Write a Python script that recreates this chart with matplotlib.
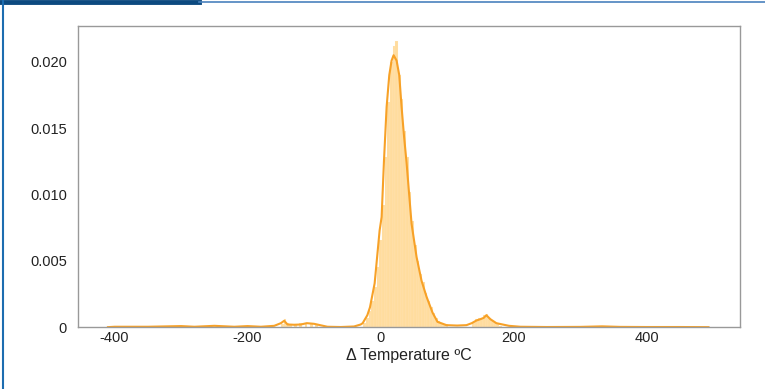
import matplotlib
matplotlib.use("Agg")
import matplotlib.pyplot as plt
from matplotlib.lines import Line2D
from matplotlib.ticker import FixedLocator, FixedFormatter

# Histogram bins (left edges, width 4) and density heights
bin_width = 4
bin_left = [-150, -146, -142, -138, -130, -122, -114, -106, -98,
            -26, -22, -18, -14, -10, -6, -2, 2, 6, 10, 14, 18, 22, 26, 30, 34,
            38, 42, 46, 50, 54, 58, 62, 66, 70, 74, 78, 82, 86, 90, 94, 98,
            138, 142, 146, 150, 154, 158, 162, 166, 170, 174, 178]
bin_height = [0.0002, 0.0006, 0.0003, 0.0002, 0.0002, 0.0003, 0.0003, 0.0003, 0.0002,
              0.0003, 0.0007, 0.0012, 0.0020, 0.0030, 0.0045, 0.0066, 0.0092, 0.0128,
              0.0170, 0.0200, 0.0212, 0.0216, 0.0190, 0.0172, 0.0148, 0.0128, 0.0102,
              0.0080, 0.0062, 0.0050, 0.0040, 0.0034, 0.0026, 0.0020, 0.0015, 0.0011,
              0.0007, 0.0005, 0.0003, 0.0002, 0.0002,
              0.0004, 0.0006, 0.0007, 0.0007, 0.0009, 0.0010, 0.0007, 0.0005, 0.0004,
              0.0002, 0.0001]

# KDE curve
kde_x = [-410, -400, -350, -300, -280, -250, -220, -200, -180, -160, -150, -145,
         -140, -130, -120, -111, -100, -91, -80, -60, -40, -30, -27, -20, -16, -9,
         -1.5, 1.5, 5, 9, 13, 16.5, 19.5, 24, 28, 31.5, 35, 39, 46.5, 54, 61.5, 69,
         78, 85.5, 99, 115, 129, 137, 144, 150, 155, 159, 165, 174, 193, 210, 250,
         300, 333, 360, 400, 450, 493]
kde_y = [0.0, 0.00003, 0.00003, 0.00008, 0.00003, 0.0001, 0.00003, 0.00008, 0.00003,
         0.0001, 0.0003, 0.00048, 0.0002, 0.00018, 0.0002, 0.0003, 0.00025, 0.00015,
         0.00003, 0.00001, 0.00005, 0.0002, 0.0003, 0.0009, 0.0015, 0.0033, 0.0073,
         0.0083, 0.0125, 0.0166, 0.0190, 0.0201, 0.0205, 0.0201, 0.0190, 0.0166,
         0.0145, 0.0124, 0.0078, 0.0053, 0.0035, 0.0023, 0.0011, 0.0004, 0.00015,
         0.00012, 0.00015, 0.0003, 0.0005, 0.0006, 0.0007, 0.0009, 0.0006, 0.0003,
         0.0001, 0.00003, 0.00001, 0.00002, 0.00006, 0.00002, 0.00001, 0.00001, 0.0]

xticks = [-400, -200, 0, 200, 400]
xtick_labels = ["-400", "-200", "0", "200", "400"]
yticks = [0, 0.005, 0.010, 0.015, 0.020]
ytick_labels = ["0", "0.005", "0.010", "0.015", "0.020"]

plt.rcParams['font.family'] = ['Liberation Sans', 'DejaVu Sans']

fig = plt.figure(figsize=(7.65, 3.89), dpi=100)
ax = fig.add_axes([0.102, 0.159, 0.865, 0.774])

ax.bar(bin_left, bin_height, width=bin_width, align='edge',
       color='#ffa500', alpha=0.38, edgecolor='#fff4e0', linewidth=0.25)
ax.plot(kde_x, kde_y, color='#f7a127', linewidth=1.5)

ax.set_xlim(-455, 540)
ax.set_ylim(0, 0.0227)
ax.xaxis.set_major_locator(FixedLocator(xticks))
ax.xaxis.set_major_formatter(FixedFormatter(xtick_labels))
ax.yaxis.set_major_locator(FixedLocator(yticks))
ax.yaxis.set_major_formatter(FixedFormatter(ytick_labels))
ax.tick_params(axis='x', length=0, labelsize=10.5, colors='#222222', pad=3)
ax.tick_params(axis='y', length=0, labelsize=10.5, colors='#222222', pad=8)
for s in ax.spines.values():
    s.set_color('#999999')
    s.set_linewidth(1.0)
ax.set_xlabel("Δ Temperature ºC", fontsize=11.5, color='#222222', labelpad=2)

# page decorations
fig.add_artist(Line2D([0.0, 0.26], [0.996, 0.996], transform=fig.transFigure,
                      color='#0c4a80', linewidth=3.5))
fig.add_artist(Line2D([0.26, 1.0], [0.995, 0.995], transform=fig.transFigure,
                      color='#4a82bd', linewidth=1.2))
fig.add_artist(Line2D([0.0045, 0.0045], [0.0, 1.0], transform=fig.transFigure,
                      color='#1d6db0', linewidth=1.5))

fig.savefig("out.png", dpi=100)
